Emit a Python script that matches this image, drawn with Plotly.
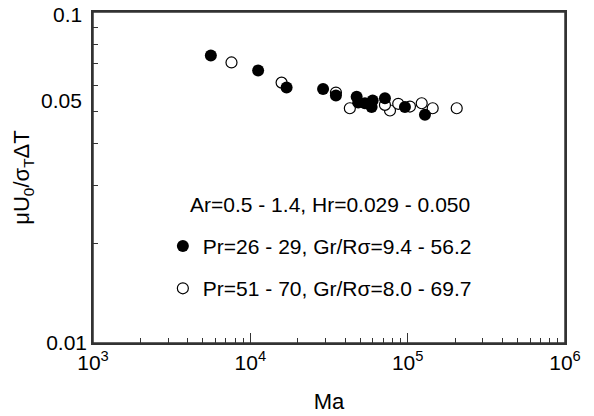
import math
import plotly.graph_objects as go

# Filled circles: Pr=26 - 29
ma_filled = [5610, 11210, 17000, 29000, 35000, 47400, 48500, 53500, 59900, 59000, 71700, 96100, 128800]
u_filled = [0.0739, 0.0666, 0.0591, 0.0585, 0.0559, 0.0555, 0.0533, 0.0530, 0.0540, 0.0516, 0.0549, 0.0516, 0.0489]

# Open circles: Pr=51 - 70
ma_open = [7590, 15800, 35000, 42900, 77200, 71700, 87100, 103400, 122800, 144200, 205000]
u_open = [0.0704, 0.0612, 0.0571, 0.0512, 0.0504, 0.0524, 0.0528, 0.0518, 0.0530, 0.0512, 0.0512]

x_tickvals = [1e3, 1e4, 1e5, 1e6]
x_ticktext = ["10<sup>3</sup>", "10<sup>4</sup>", "10<sup>5</sup>", "10<sup>6</sup>"]
x_minor = [m * 10 ** e for e in (3, 4, 5) for m in range(2, 10)]
y_tickvals = [0.01]
y_ticktext = ["0.01"]
y_label_vals = [0.1, 0.05]
y_label_text = ["0.1", "0.05"]
y_minor = [0.02, 0.03, 0.04, 0.05, 0.06, 0.07, 0.08, 0.09]

FONT = "Liberation Sans, Arial, Helvetica, sans-serif"
FS = 21

fig = go.Figure()
fig.add_trace(go.Scatter(
    x=ma_open, y=u_open, mode="markers",
    name="Pr=51 - 70, Gr/Rσ=8.0 - 69.7",
    marker=dict(size=11, color="white", line=dict(color="black", width=1.2)),
    legendrank=2, legendgroup="b",
))
fig.add_trace(go.Scatter(
    x=ma_filled, y=u_filled, mode="markers",
    name="Pr=26 - 29, Gr/Rσ=9.4 - 56.2",
    marker=dict(size=12, color="black", line=dict(color="black", width=0)),
    legendrank=1, legendgroup="a",
))

fig.add_annotation(
    text="Ar=0.5 - 1.4, Hr=0.029 - 0.050",
    xref="paper", yref="paper", x=0.502, y=0.417,
    showarrow=False, font=dict(size=FS, color="black", family=FONT),
)
# y labels for 0.1 and 0.05 (placed like the reference's labels)
for val, txt, shift in zip(y_label_vals, y_label_text, [-2, 11]):
    fig.add_annotation(
        text=txt, xref="paper", yref="y", x=0, y=math.log10(val), yshift=shift,
        xanchor="right", xshift=-9, showarrow=False,
        font=dict(size=FS, color="black", family=FONT),
    )
# frame around the plot area
fig.add_shape(type="rect", xref="paper", yref="paper", x0=0, x1=1, y0=0, y1=1,
              line=dict(color="#333", width=1.5), layer="above")

fig.update_layout(
    width=594, height=416,
    margin=dict(l=93, r=29, t=12, b=73, autoexpand=False),
    paper_bgcolor="white", plot_bgcolor="white",
    font=dict(family=FONT, size=FS, color="black"),
    showlegend=True,
    legend=dict(
        x=0.148, y=0.354, xanchor="left", yanchor="top",
        bgcolor="rgba(0,0,0,0)", font=dict(size=FS, family=FONT),
        tracegroupgap=12, traceorder="grouped", itemsizing="trace",
    ),
    xaxis=dict(
        type="log", range=[3, 6], automargin=False, ticklabeloverflow="allow",
        tickvals=x_tickvals, ticktext=x_ticktext,
        ticks="inside", ticklen=10, tickcolor="#333", tickwidth=1,
        minor=dict(tickvals=x_minor, ticks="inside", ticklen=5, tickcolor="#333", tickwidth=1, showgrid=False),
        showline=True, linecolor="#333", linewidth=1.5, mirror=True,
        showgrid=False, zeroline=False,
        title=dict(text="Ma", font=dict(size=22, family=FONT), standoff=21),
        tickfont=dict(size=FS, family=FONT),
    ),
    yaxis=dict(
        type="log", range=[-2, -1], automargin=False, ticklabeloverflow="allow",
        tickvals=y_tickvals, ticktext=y_ticktext,
        ticks="",
        minor=dict(tickvals=y_minor, ticks="inside", ticklen=5, tickcolor="#333", tickwidth=1, showgrid=False),
        showline=True, linecolor="#333", linewidth=1.5, mirror=True,
        showgrid=False, zeroline=False,
        title=dict(text="μU<sub>0</sub>/σ<sub>T</sub>ΔT", font=dict(size=22, family=FONT), standoff=10),
        tickfont=dict(size=FS, family=FONT),
    ),
)

# remove the page's default 8px body margin so the figure fills the window exactly
fig.write_html(
    "out.html",
    config={"displayModeBar": False},
    post_script="document.body.style.margin='0px';",
)
